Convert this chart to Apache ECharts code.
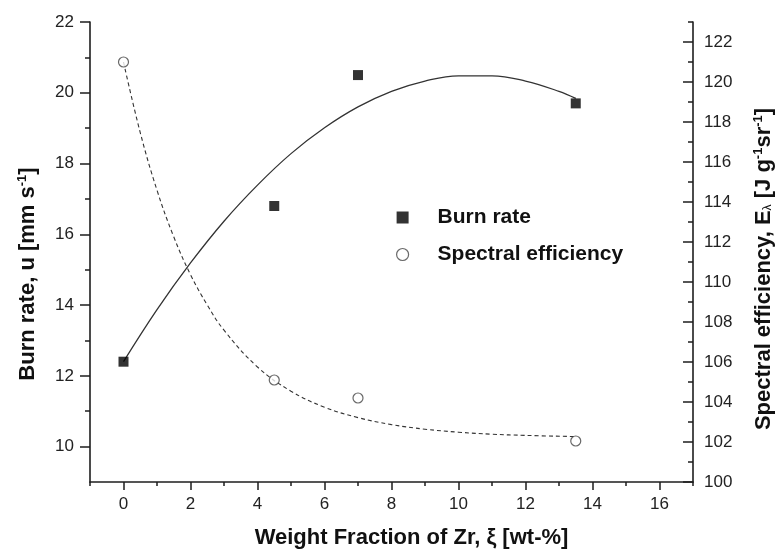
<!DOCTYPE html>
<html>
<head>
<meta charset="utf-8">
<script src="https://cdn.jsdelivr.net/npm/echarts@6/dist/echarts.min.js"></script>
<style>
html,body{margin:0;padding:0;background:#fff;}
#chart{width:783px;height:556px;}
</style>
</head>
<body>
<div id="chart"></div>
<script>
// Measured data
const zrFraction = [0, 4.5, 7, 13.5];
const burnRate = [12.4, 16.8, 20.5, 19.7];
const spectralEff = [121.0, 105.1, 104.2, 102.05];

// Fitted curves
const burnFitX = [0, 1, 2, 3, 4, 5, 6, 7, 8, 9, 10, 11, 12, 13, 13.5];
const burnFitY = [12.4, 13.87, 15.19, 16.37, 17.39, 18.28, 19.01, 19.6, 20.04, 20.33, 20.48, 20.48, 20.33, 20.04, 19.84];
const specFitX = [0, 0.5, 1, 1.5, 2, 2.5, 3, 4, 5, 6, 7, 8, 9, 10, 11, 12, 13.5];
const specFitY = [121.0, 117.47, 114.59, 112.26, 110.37, 108.85, 107.59, 105.75, 104.54, 103.74, 103.22, 102.87, 102.64, 102.49, 102.39, 102.33, 102.27];

// Tick values
const xMajorTicks = [0, 2, 4, 6, 8, 10, 12, 14, 16];
const xMinorTicks = [-1, 1, 3, 5, 7, 9, 11, 13, 15, 17];
const leftMajorTicks = [10, 12, 14, 16, 18, 20, 22];
const leftMinorTicks = [11, 13, 15, 17, 19, 21];
const rightMajorTicks = [100, 102, 104, 106, 108, 110, 112, 114, 116, 118, 120, 122];
const rightMinorTicks = [101, 103, 105, 107, 109, 111, 113, 115, 117, 119, 121, 123];

const FONT = '"Liberation Sans", Arial, sans-serif';
const INK = '#1e1e1e';
const axisLine = {show: true, onZero: false, lineStyle: {color: INK, width: 1.6}};
const noLine = {show: false, onZero: false};
const TICKFONT = 17;
const TITLEFONT = 22;

const chart = echarts.init(document.getElementById('chart'), null, {renderer: 'canvas'});
chart.setOption({
  animation: false,
  backgroundColor: '#fff',
  grid: {left: 90, right: 89, top: 22, bottom: 74, containLabel: false},
  legend: {
    orient: 'vertical', left: 396, top: 207, padding: 0,
    itemWidth: 12, itemHeight: 12, itemGap: 16,
    selectedMode: false,
    textStyle: {fontFamily: FONT, fontSize: 21, fontWeight: 'bold', color: '#111', padding: [0, 0, 0, 24]},
    data: [
      {name: 'Burn rate', icon: 'rect', itemStyle: {color: '#000'}},
      {name: 'Spectral efficiency', icon: 'circle', itemStyle: {color: '#fff', borderColor: '#444', borderWidth: 1.2}}
    ]
  },
  xAxis: [
    {
      type: 'value', min: -1, max: 17, position: 'bottom',
      axisLine: axisLine,
      axisTick: {show: true, length: 8, customValues: xMajorTicks, lineStyle: {color: INK, width: 1.5}},
      axisLabel: {customValues: xMajorTicks, fontFamily: FONT, fontSize: TICKFONT, color: '#222', margin: 14},
      splitLine: {show: false},
      name: 'Weight Fraction of Zr, \u03be [wt-%]',
      nameLocation: 'middle', nameGap: 45,
      nameTextStyle: {fontFamily: FONT, fontSize: TITLEFONT, fontWeight: 'bold', color: '#111', padding: [0, 0, 0, 40]}
    },
    {
      type: 'value', min: -1, max: 17, position: 'bottom',
      axisLine: noLine,
      axisTick: {show: true, length: 4, customValues: xMinorTicks, lineStyle: {color: INK, width: 1.5}},
      axisLabel: {show: false},
      splitLine: {show: false}
    }
  ],
  yAxis: [
    {
      type: 'value', min: 9, max: 22, position: 'left',
      axisLine: axisLine,
      axisTick: {show: true, length: 10, customValues: leftMajorTicks, lineStyle: {color: INK, width: 1.5}},
      axisLabel: {customValues: leftMajorTicks, fontFamily: FONT, fontSize: TICKFONT, color: '#222', margin: 16},
      splitLine: {show: false},
      name: 'Burn rate, u [mm s{sup|-1}]',
      nameLocation: 'middle', nameGap: 50, nameRotate: 90,
      nameTextStyle: {
        fontFamily: FONT, fontSize: TITLEFONT, fontWeight: 'bold', color: '#111', padding: [0, 44, 0, 0],
        rich: {sup: {fontFamily: FONT, fontSize: 13, fontWeight: 'bold', color: '#111', padding: [0, 0, 11, 0]}}
      }
    },
    {
      type: 'value', min: 100, max: 123, position: 'right',
      axisLine: axisLine,
      axisTick: {show: true, inside: true, length: 10, customValues: rightMajorTicks, lineStyle: {color: INK, width: 1.5}},
      axisLabel: {customValues: rightMajorTicks, fontFamily: FONT, fontSize: TICKFONT, color: '#222', margin: 11},
      splitLine: {show: false},
      name: 'Spectral efficiency, E{sub|\u03bb} [J g{sup|-1}sr{sup|-1}]',
      nameLocation: 'middle', nameGap: 59, nameRotate: 90,
      nameTextStyle: {
        fontFamily: FONT, fontSize: TITLEFONT, fontWeight: 'bold', color: '#111', padding: [0, 34, 0, 0],
        rich: {
          sup: {fontFamily: FONT, fontSize: 13, fontWeight: 'bold', color: '#111', padding: [0, 0, 11, 0]},
          sub: {fontFamily: FONT, fontSize: 12, fontWeight: 'normal', color: '#111', padding: [8, 0, 0, 0]}
        }
      }
    },
    {
      type: 'value', min: 9, max: 22, position: 'left',
      axisLine: noLine,
      axisTick: {show: true, length: 5, customValues: leftMinorTicks, lineStyle: {color: INK, width: 1.5}},
      axisLabel: {show: false},
      splitLine: {show: false}
    },
    {
      type: 'value', min: 100, max: 123, position: 'right',
      axisLine: noLine,
      axisTick: {show: true, inside: true, length: 5, customValues: rightMinorTicks, lineStyle: {color: INK, width: 1.5}},
      axisLabel: {show: false},
      splitLine: {show: false}
    }
  ],
  series: [
    {
      name: 'Burn rate fit', type: 'line', xAxisIndex: 0, yAxisIndex: 0,
      data: burnFitX.map((x, i) => [x, burnFitY[i]]),
      smooth: 0.4, showSymbol: false, silent: true,
      lineStyle: {color: '#333', width: 1.3}, z: 2
    },
    {
      name: 'Spectral fit', type: 'line', xAxisIndex: 0, yAxisIndex: 1,
      data: specFitX.map((x, i) => [x, specFitY[i]]),
      smooth: 0.4, showSymbol: false, silent: true,
      lineStyle: {color: '#333', width: 1.1, type: [4, 3]}, z: 2
    },
    {
      name: 'Burn rate', type: 'scatter', xAxisIndex: 0, yAxisIndex: 0,
      data: zrFraction.map((x, i) => [x, burnRate[i]]),
      symbol: 'rect', symbolSize: 10,
      itemStyle: {color: '#000'}, z: 3
    },
    {
      name: 'Spectral efficiency', type: 'scatter', xAxisIndex: 0, yAxisIndex: 1,
      data: zrFraction.map((x, i) => [x, spectralEff[i]]),
      symbol: 'circle', symbolSize: 10,
      itemStyle: {color: '#fff', borderColor: '#444', borderWidth: 1.2}, z: 3
    }
  ]
});
</script>
</body>
</html>
